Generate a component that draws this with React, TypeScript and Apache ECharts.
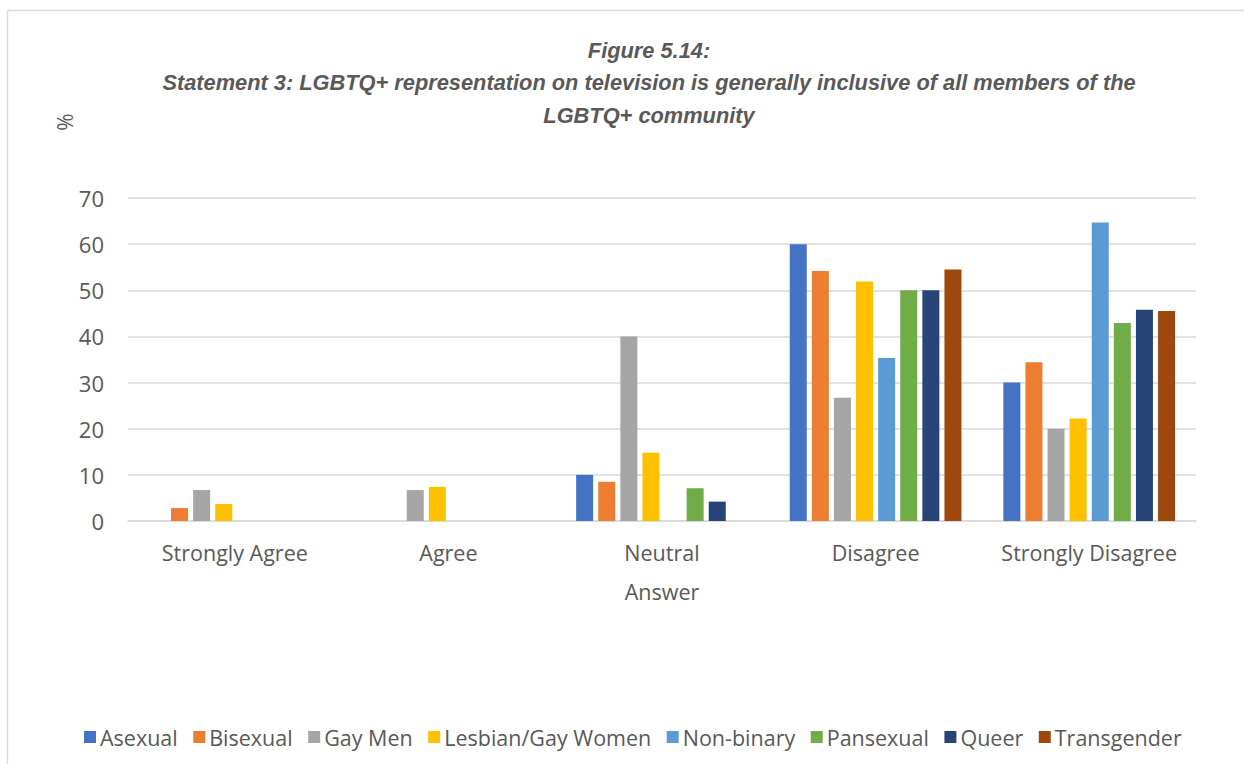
import React, { useEffect, useRef } from "react";
import * as echarts from "echarts";

const categories = ["Strongly Agree", "Agree", "Neutral", "Disagree", "Strongly Disagree"];
const seriesNames = ["Asexual", "Bisexual", "Gay Men", "Lesbian/Gay Women", "Non-binary", "Pansexual", "Queer", "Transgender"];
const asexual = [0, 0, 10, 60, 30];
const bisexual = [2.8, 0, 8.5, 54.2, 34.4];
const gayMen = [6.7, 6.7, 40, 26.7, 20];
const lesbian = [3.7, 7.4, 14.8, 51.9, 22.2];
const nonBinary = [0, 0, 0, 35.3, 64.7];
const pansexual = [0, 0, 7.1, 50, 42.9];
const queer = [0, 0, 4.2, 50, 45.8];
const transgender = [0, 0, 0, 54.5, 45.5];
const yTicks = [0, 10, 20, 30, 40, 50, 60, 70];
const colors = ["#4472C4", "#ED7D31", "#A5A5A5", "#FFC000", "#5B9BD5", "#70AD47", "#264478", "#9E480E"];

const titleText =
  "Figure 5.14:\nStatement 3: LGBTQ+ representation on television is generally inclusive of all members of the\nLGBTQ+ community";

export default function App() {
  const ref = useRef<HTMLDivElement>(null);
  useEffect(() => {
    if (!ref.current) return;
    const chart = echarts.init(ref.current, undefined, { renderer: "svg" });
    const values = [asexual, bisexual, gayMen, lesbian, nonBinary, pansexual, queer, transgender];
    const font = "'Open Sans', 'Noto Sans', sans-serif";
    chart.setOption({
      animation: false,
      backgroundColor: "#ffffff",
      color: colors,
      title: {
        text: titleText,
        left: 644,
        top: 29,
        textAlign: "center",
        textStyle: {
          fontFamily: "'Liberation Sans Narrow', 'Liberation Sans', sans-serif",
          fontStyle: "italic",
          fontWeight: "bold",
          fontSize: 21.8,
          lineHeight: 32.5,
          color: "#595959",
        },
      },
      graphic: [
        { type: "line", shape: { x1: 7.5, y1: 10.5, x2: 1244, y2: 10.5 }, style: { stroke: "#d9d9d9", lineWidth: 1.5 } },
        { type: "line", shape: { x1: 7.5, y1: 10.5, x2: 7.5, y2: 764 }, style: { stroke: "#d9d9d9", lineWidth: 1.5 } },
        {
          type: "text",
          x: 65,
          y: 122,
          rotation: Math.PI / 2,
          style: { text: "%", fontFamily: font, fontSize: 21, fill: "#595959", align: "center", verticalAlign: "middle" },
        },
      ],
      legend: {
        data: seriesNames,
        top: 721,
        left: 79,
        itemWidth: 12,
        itemHeight: 12,
        itemGap: 15.5,
        icon: "rect",
        textStyle: { fontFamily: font, fontSize: 21.5, color: "#595959", padding: [0, 0, 0, -1] },
      },
      grid: { left: 128, right: 48, top: 198, bottom: 243, containLabel: false },
      xAxis: {
        type: "category",
        data: categories,
        axisTick: { show: false },
        axisLine: { lineStyle: { color: "#d9d9d9", width: 1.5 } },
        axisLabel: { fontFamily: font, fontSize: 21.5, color: "#595959", margin: 20, interval: 0, hideOverlap: false },
        name: "Answer",
        nameLocation: "middle",
        nameGap: 59,
        nameTextStyle: { fontFamily: font, fontSize: 21.5, color: "#595959" },
      },
      yAxis: {
        type: "value",
        min: yTicks[0],
        max: yTicks[yTicks.length - 1],
        interval: 10,
        axisLine: { show: false },
        axisTick: { show: false },
        splitLine: { lineStyle: { color: "#d9d9d9", width: 1.5 } },
        axisLabel: { fontFamily: font, fontSize: 22, color: "#595959", margin: 24 },
      },
      series: seriesNames.map((name, i) => ({
        name,
        type: "bar",
        data: values[i],
        barWidth: 17,
        barGap: "30%",
      })),
    });
    return () => chart.dispose();
  }, []);
  return <div ref={ref} style={{ position: "fixed", left: 0, top: 0, width: 1244, height: 764 }} />;
}
